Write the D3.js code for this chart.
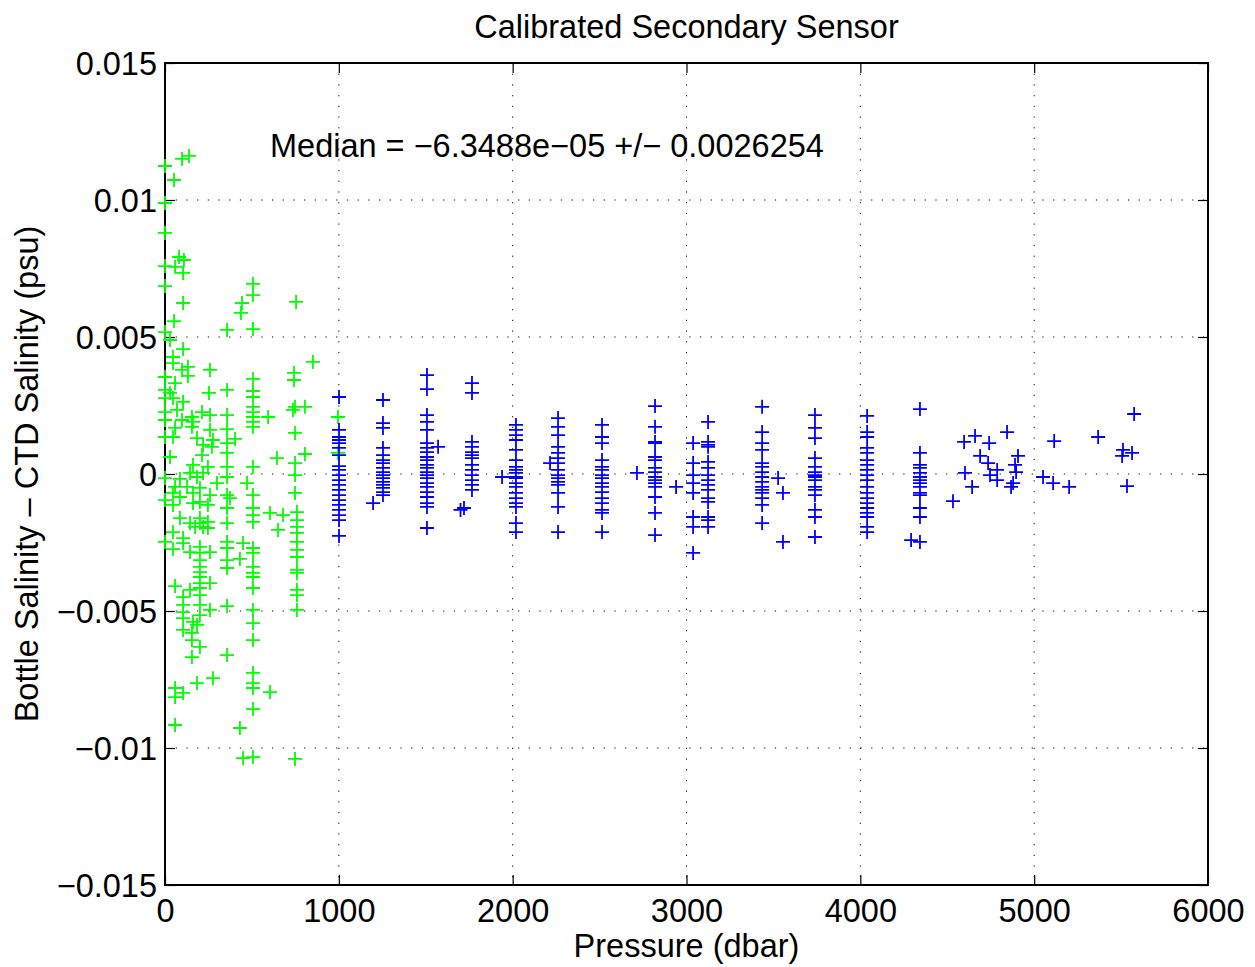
<!DOCTYPE html>
<html>
<head>
<meta charset="utf-8">
<script src="https://cdn.jsdelivr.net/npm/d3@7"></script>
<style>
  body { margin: 0; background: #fff; }
  svg text { font-family: "Liberation Sans", Arial, Helvetica, sans-serif; fill: #000; }
</style>
</head>
<body>
<div id="chart"></div>
<script>
// bottle minus CTD salinity, [pressure dbar, difference psu]
// shallow bottles (< 1000 dbar), drawn green
var shallowPts = [
  [0,0.01124],[98,0.0115],[138,0.01161],[52,0.01073],[0,0.00989],[0,0.0088],[81,0.00792],[109,0.00781],
  [58,0.00756],[0,0.00759],[104,0.00734],[0,0.00686],[104,0.00624],[506,0.00694],[506,0.00653],[443,0.00624],
  [437,0.00588],[754,0.00628],[52,0.00558],[0,0.00518],[357,0.00526],[506,0.00529],
  [29,0.00489],[104,0.00456],[46,0.00427],[46,0.00405],[132,0.00391],[98,0.0038],[132,0.00358],[0,0.00354],
  [259,0.0038],[851,0.00409],[506,0.00347],[742,0.00369],[742,0.00343],[58,0.00332],[0,0.00307],[29,0.00296],
  [253,0.00296],[357,0.00307],[506,0.00303],[506,0.00281],[0,0.00277],[46,0.00277],[104,0.00263],[748,0.00245],
  [805,0.00245],[736,0.00234],[506,0.00245],[506,0.00226],[506,0.00208],[506,0.0019],[506,0.00172],[593,0.00208],
  [0,0.00226],[69,0.00234],[155,0.00208],[213,0.00226],[259,0.00215],[357,0.00215],[161,0.0019],[98,0.00197],
  [0,0.00197],[58,0.00168],[155,0.00172],[259,0.00161],[357,0.00164],[0,0.00135],[46,0.00135],[184,0.00131],
  [276,0.00124],[403,0.00128],[748,0.0015],[219,0.00106],[357,0.00113],[270,0.00099],[357,0.00077],[213,0.00069],
  [29,0.00062],[644,0.00058],[805,0.00073],[748,0.0004],[161,0.00033],[247,0.00026],[357,0.00026],[506,0.00026],
  [219,0.00004],[144,0.00004],[0,-0.00015],[86,-0.00018],[184,-0.00011],[299,-0.00033],[357,-0.00011],[748,-0.00004],
  [472,-0.00033],[58,-0.00047],[127,-0.00047],[201,-0.00051],[46,-0.00069],[161,-0.00069],[259,-0.00077],[357,-0.00077],
  [506,-0.00077],[748,-0.00069],[0,-0.00095],[86,-0.00084],[201,-0.00102],[374,-0.00088],[46,-0.00113],[161,-0.00106],
  [247,-0.00113],[357,-0.00124],[506,-0.00124],[604,-0.00142],[679,-0.0015],[759,-0.00139],[86,-0.00161],[201,-0.00161],
  [247,-0.00175],[506,-0.0015],[506,-0.00175],[759,-0.00168],[219,-0.00193],[144,-0.00179],[357,-0.00179],[759,-0.00193],
  [46,-0.00212],[104,-0.00234],[104,-0.00252],[173,-0.00193],[201,-0.00179],[247,-0.00197],[650,-0.00204],[759,-0.00215],
  [0,-0.00248],[46,-0.00274],[144,-0.00285],[201,-0.00266],[201,-0.00288],[259,-0.00285],[357,-0.00248],[357,-0.0027],
  [449,-0.00252],[506,-0.0027],[506,-0.00288],[759,-0.00248],[759,-0.00277],[759,-0.00303],[201,-0.00314],[357,-0.00314],
  [431,-0.0031],[201,-0.00339],[357,-0.00343],[506,-0.00339],[506,-0.00361],[506,-0.00376],[201,-0.00358],[759,-0.0035],
  [759,-0.00361],[201,-0.00376],[201,-0.00398],[259,-0.00398],[58,-0.00409],[201,-0.00416],[144,-0.00423],[201,-0.00442],
  [506,-0.00416],[759,-0.00423],[759,-0.00442],[104,-0.00449],[104,-0.00478],[201,-0.00478],[259,-0.00496],[357,-0.00482],
  [506,-0.00496],[759,-0.00496],[104,-0.00504],[201,-0.00515],[104,-0.00526],[161,-0.0054],[184,-0.00551],[506,-0.00544],
  [104,-0.00569],[155,-0.0058],[155,-0.00606],[506,-0.00606],[201,-0.00631],[155,-0.00668],[357,-0.00661],[506,-0.00726],
  [276,-0.00745],[184,-0.00763],[506,-0.00763],[506,-0.00781],[604,-0.00796],[58,-0.00781],[104,-0.00799],[58,-0.00814],
  [506,-0.00858],[58,-0.00916],[431,-0.00927],[449,-0.01037],[506,-0.01033],[748,-0.0104],
  [995,0.00208],[995,0.00077]
];

// deep bottles (>= 1000 dbar), drawn blue
var deepPts = [
  [1001,0.00281],[1001,0.00161],[1001,0.00135],[1001,0.00124],[1001,0.00113],[1001,0.00095],[1001,0.00069],[1001,0.00029],
  [1001,0.00015],[1001,-0.00004],[1001,-0.00022],[1001,-0.0004],[1001,-0.00058],[1001,-0.00077],[1001,-0.00095],[1001,-0.00113],
  [1001,-0.00131],[1001,-0.0015],[1001,-0.00168],[1001,-0.00226],
  [1254,0.0027],[1254,0.00186],[1254,0.00168],[1254,0.00095],[1254,0.00069],[1254,0.00051],[1254,0.0004],[1254,0.00022],
  [1254,0.00007],[1254,-0.00004],[1254,-0.00015],[1254,-0.00029],[1254,-0.0004],[1254,-0.00051],[1254,-0.00066],[1254,-0.00077],
  [1197,-0.00106],
  [1507,0.00361],[1507,0.0031],[1507,0.00215],[1507,0.0019],[1507,0.00161],[1507,0.00113],[1507,0.00095],[1507,0.0008],
  [1507,0.00062],[1507,0.00051],[1507,0.00033],[1507,0.00022],[1507,0.00007],[1507,-0.00004],[1507,-0.00015],[1507,-0.00033],
  [1507,-0.00047],[1507,-0.00066],[1507,-0.00084],[1507,-0.00106],[1507,-0.0012],[1507,-0.00197],[1571,0.00099],
  [1766,0.00332],[1766,0.00296],[1766,0.00117],[1766,0.00099],[1766,0.0008],[1766,0.00069],[1766,0.00058],[1766,0.00033],
  [1766,0.00015],[1766,-0.00004],[1766,-0.00022],[1766,-0.0004],[1766,-0.00058],[1720,-0.00124],[1700,-0.00131],
  [2019,0.00179],[2019,0.00161],[2019,0.00142],[2019,0.00124],[2019,0.00088],[2019,0.00051],[2019,0.00026],[2019,0.00015],
  [2019,0.00004],[2019,-0.00011],[2019,-0.00015],[2019,-0.00033],[2019,-0.00047],[2019,-0.00069],[2019,-0.00088],[2019,-0.00106],
  [2019,-0.0012],[2019,-0.00179],[2019,-0.00212],[1939,-0.00011],
  [2261,0.00204],[2261,0.00172],[2261,0.00142],[2261,0.00099],[2261,0.00077],[2261,0.00058],[2261,0.0004],[2261,0.00015],
  [2261,-0.00004],[2261,-0.00015],[2261,-0.00029],[2261,-0.0004],[2261,-0.00069],[2261,-0.0012],[2261,-0.00212],[2215,0.0004],
  [2514,0.00179],[2514,0.00135],[2514,0.00113],[2514,0.00051],[2514,0.00026],[2514,0.00015],[2514,-0.00004],[2514,-0.00015],
  [2514,-0.00033],[2514,-0.00047],[2514,-0.00066],[2514,-0.00088],[2514,-0.00106],[2514,-0.00131],[2514,-0.00142],[2514,-0.00212],
  [2819,0.00248],[2819,0.00172],[2819,0.00117],[2819,0.00113],[2819,0.00062],[2819,0.00051],[2819,0.00022],[2819,0.00007],
  [2819,-0.00011],[2819,-0.00022],[2819,-0.00033],[2819,-0.00047],[2819,-0.00084],[2819,-0.00142],[2819,-0.00223],[2715,0.00004],
  [3038,0.00113],[3038,0.0004],[3038,-0.00004],[3038,-0.00033],[3038,-0.00069],[3038,-0.00157],[3038,-0.00193],[3038,-0.00288],
  [3124,0.0019],[3124,0.00117],[3124,0.00106],[3124,0.00099],[3124,0.00044],[3124,0.00022],[3124,-0.00004],[3124,-0.00022],
  [3124,-0.0004],[3124,-0.00058],[3124,-0.00088],[3124,-0.00102],[3124,-0.00157],[3124,-0.00168],[3124,-0.00193],[2940,-0.00047],
  [3435,0.00245],[3435,0.00153],[3435,0.00113],[3435,0.00088],[3435,0.0004],[3435,0.00026],[3435,0.00007],[3435,-0.00011],
  [3435,-0.00029],[3435,-0.00047],[3435,-0.00058],[3435,-0.00069],[3435,-0.00088],[3435,-0.00113],[3435,-0.00179],
  [3527,-0.00015],[3555,-0.00069],[3555,-0.00248],
  [3739,0.00215],[3739,0.00168],[3739,0.00131],[3739,0.00058],[3739,0.00026],[3739,0.00007],[3739,-0.00004],[3739,-0.00011],
  [3739,-0.00022],[3739,-0.00047],[3739,-0.00058],[3739,-0.00077],[3739,-0.00131],[3739,-0.00157],[3739,-0.0023],
  [4039,0.00212],[4039,0.00153],[4039,0.00135],[4039,0.00095],[4039,0.00077],[4039,0.00051],[4039,0.00033],[4039,0.00015],
  [4039,-0.00004],[4039,-0.00022],[4039,-0.00047],[4039,-0.00069],[4039,-0.00088],[4039,-0.00106],[4039,-0.00124],[4039,-0.00142],
  [4039,-0.00157],[4039,-0.00193],[4039,-0.00212],
  [4343,0.00237],[4343,0.00077],[4343,0.00033],[4343,0.00022],[4343,0.00004],[4343,-0.00011],[4343,-0.00022],[4343,-0.00033],
  [4343,-0.00047],[4343,-0.00069],[4343,-0.00077],[4343,-0.00124],[4343,-0.00157],[4292,-0.00241],[4343,-0.00248],
  [4533,-0.00099],[4597,0.00117],[4660,0.00139],[4602,0.00004],[4643,-0.00047],[4689,0.00066],[4741,0.00113],[4735,0.0004],
  [4787,0.00015],[4746,-0.00004],[4787,-0.00022],[4844,0.00153],[4907,0.00066],[4890,0.00033],[4896,0.00007],[4879,-0.00033],
  [4867,-0.00047],[5051,-0.00011],[5109,-0.00033],[5115,0.0012],[5201,-0.00047],[5368,0.00135],[5506,0.00066],[5511,0.00088],
  [5563,0.00077],[5534,-0.00044],[5575,0.00219]
];

var xTicks = [0, 1000, 2000, 3000, 4000, 5000, 6000];
var yTicks = [-0.015, -0.01, -0.005, 0, 0.005, 0.01, 0.015];
var yTickLabels = ["\u22120.015", "\u22120.01", "\u22120.005", "0", "0.005", "0.01", "0.015"];

var titleText = "Calibrated Secondary Sensor";
var medianText = "Median = \u22126.3488e\u221205 +/\u2212 0.0026254";
var xLabel = "Pressure (dbar)";
var yLabel = "Bottle Salinity \u2013 CTD Salinity (psu)";

var W = 1255, H = 967;
var margin = {left: 165, right: 47, top: 63, bottom: 82};
var pw = W - margin.left - margin.right,
    ph = H - margin.top - margin.bottom;
var fs = 32.5;

var svg = d3.select("#chart").append("svg")
  .attr("width", W).attr("height", H);

var x = d3.scaleLinear().domain([0, 6000]).range([0, pw]);
var y = d3.scaleLinear().domain([-0.015, 0.015]).range([ph, 0]);

var g = svg.append("g")
  .attr("transform", "translate(" + margin.left + "," + margin.top + ")");

// dotted grid
g.append("g").selectAll("line")
  .data(xTicks.slice(1, -1)).enter().append("line")
  .attr("x1", function(d) { return x(d); }).attr("x2", function(d) { return x(d); })
  .attr("y1", 0).attr("y2", ph)
  .attr("stroke", "#000").attr("stroke-width", 1)
  .attr("stroke-dasharray", "1.2,9.5");
g.append("g").selectAll("line")
  .data(yTicks.slice(1, -1)).enter().append("line")
  .attr("y1", function(d) { return y(d); }).attr("y2", function(d) { return y(d); })
  .attr("x1", 0).attr("x2", pw)
  .attr("stroke", "#000").attr("stroke-width", 1)
  .attr("stroke-dasharray", "1.2,9.5");

// axes, ticks pointing inwards on all four sides
var tk = 10;
var xAxisB = d3.axisBottom(x).tickValues(xTicks).tickSize(-tk).tickPadding(14).tickFormat(d3.format("d"));
var xAxisT = d3.axisTop(x).tickValues(xTicks).tickSize(-tk).tickFormat("");
var yAxisL = d3.axisLeft(y).tickValues(yTicks).tickSize(-tk).tickPadding(8)
  .tickFormat(function(d, i) { return yTickLabels[i]; });
var yAxisR = d3.axisRight(y).tickValues(yTicks).tickSize(-tk).tickFormat("");

function styleAxis(sel) {
  sel.select(".domain").remove();
  sel.selectAll(".tick line").attr("stroke", "#000").attr("stroke-width", 1.2);
  sel.selectAll(".tick text").attr("font-size", fs).attr("fill", "#000")
    .attr("font-family", "Liberation Sans, Arial, sans-serif");
}
g.append("g").attr("transform", "translate(0," + ph + ")").call(xAxisB).call(styleAxis)
  .selectAll(".tick text").attr("dy", "0.71em");
g.append("g").call(xAxisT).call(styleAxis);
g.append("g").call(yAxisL).call(styleAxis)
  .selectAll(".tick text").attr("dy", "0.35em");
g.append("g").attr("transform", "translate(" + pw + ",0)").call(yAxisR).call(styleAxis);

// frame
g.append("rect").attr("width", pw).attr("height", ph)
  .attr("fill", "none").attr("stroke", "#000").attr("stroke-width", 2);

// plus markers
var arm = 7;
function plus(d) {
  var cx = x(d[0]), cy = y(d[1]);
  return "M" + (cx - arm) + "," + cy + "H" + (cx + arm) + "M" + cx + "," + (cy - arm) + "V" + (cy + arm);
}
g.append("path")
  .attr("d", shallowPts.map(plus).join(""))
  .attr("fill", "none").attr("stroke", "#00ff00").attr("stroke-width", 1.8);
g.append("path")
  .attr("d", deepPts.map(plus).join(""))
  .attr("fill", "none").attr("stroke", "#0000ff").attr("stroke-width", 1.8);

// annotation
g.append("text").attr("x", 105).attr("y", 94)
  .attr("font-size", fs).text(medianText);

// title and labels
svg.append("text").attr("x", margin.left + pw / 2).attr("y", 38)
  .attr("text-anchor", "middle").attr("font-size", fs).text(titleText);
svg.append("text").attr("x", margin.left + pw / 2).attr("y", 957)
  .attr("text-anchor", "middle").attr("font-size", fs).text(xLabel);
svg.append("text")
  .attr("transform", "translate(38," + (margin.top + ph / 2) + ") rotate(-90)")
  .attr("text-anchor", "middle").attr("font-size", fs).text(yLabel);
</script>
</body>
</html>
